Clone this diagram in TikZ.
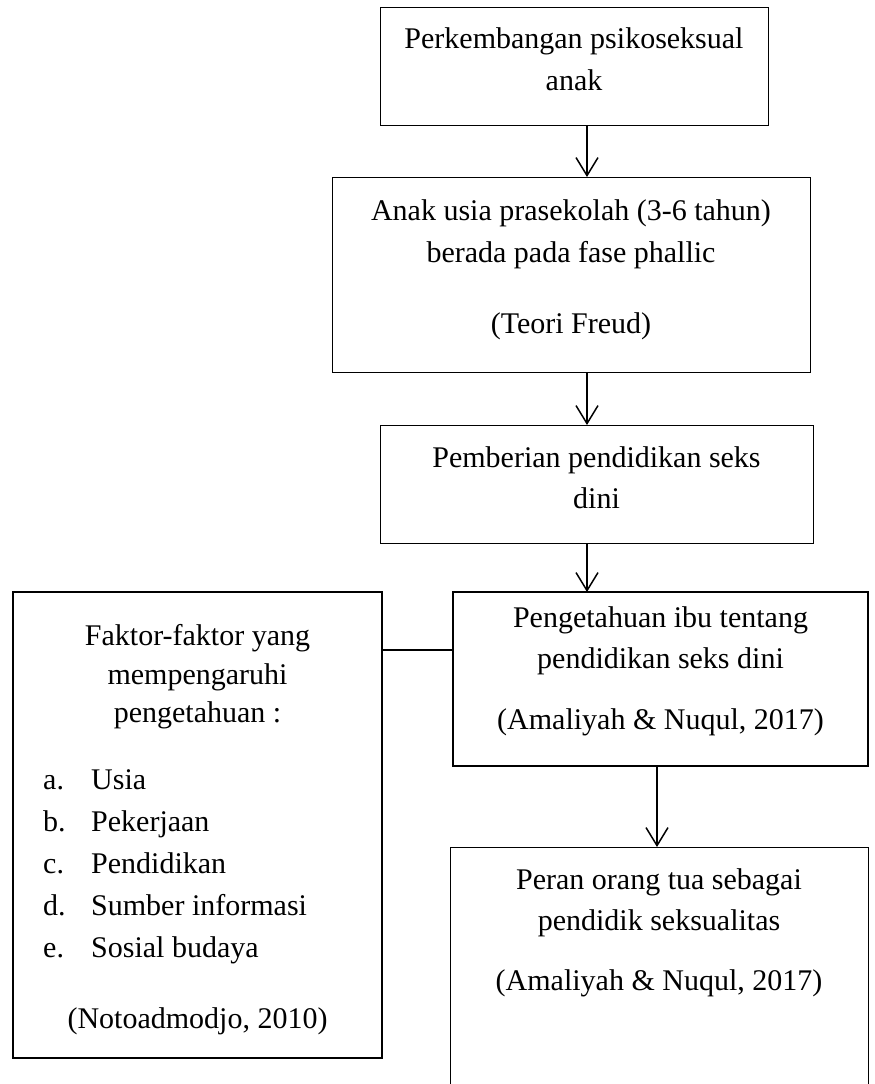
\documentclass[tikz,border=0pt]{standalone}
\usepackage{fontspec}
\setmainfont{Liberation Serif}
\usetikzlibrary{arrows.meta}
\begin{document}
\begin{tikzpicture}[x=1pt,y=-1pt,
  boxthin/.style={draw=black, line width=1pt, inner sep=0pt, outer sep=0pt},
  boxthick/.style={draw=black, line width=2pt, inner sep=0pt, outer sep=0pt},
  txt/.style={anchor=base, inner sep=0pt, font=\fontsize{30}{41}\selectfont},
  ltxt/.style={anchor=base west, inner sep=0pt, font=\fontsize{30}{41}\selectfont},
  arr/.style={line width=1.5pt, -{Straight Barb[length=18pt,width=22pt,line width=1.5pt]}},
  conn/.style={line width=1.5pt}]
\useasboundingbox (0,0) rectangle (875,1084);
% boxes
\node[boxthin, minimum width=388pt, minimum height=118pt] (b1) at (574,66) {};
\node[boxthin, minimum width=478pt, minimum height=195pt] (b2) at (571,274.5) {};
\node[boxthin, minimum width=433pt, minimum height=118pt] (b3) at (596.5,484) {};
\node[boxthick, minimum width=415pt, minimum height=174pt] (b4) at (660.5,679) {};
\node[boxthin, minimum width=418pt, minimum height=253pt] (b5) at (659,973.5) {};
\node[boxthick, minimum width=369pt, minimum height=466pt] (lb) at (197.5,825) {};
% texts
\node[txt] (t1a) at (574,48) {Perkembangan psikoseksual};
\node[txt] (t1b) at (574,90) {anak};
\node[txt] (t2a) at (571,220) {Anak usia prasekolah (3-6 tahun)};
\node[txt] (t2b) at (571,262) {berada pada fase phallic};
\node[txt] (t2c) at (571,333) {(Teori Freud)};
\node[txt] (t3a) at (596.5,467) {Pemberian pendidikan seks};
\node[txt] (t3b) at (596.5,508) {dini};
\node[txt] (t4a) at (660.5,627) {Pengetahuan ibu tentang};
\node[txt] (t4b) at (660.5,668) {pendidikan seks dini};
\node[txt] (t4c) at (660.5,729) {(Amaliyah \& Nuqul, 2017)};
\node[txt] (t5a) at (659,889) {Peran orang tua sebagai};
\node[txt] (t5b) at (659,930) {pendidik seksualitas};
\node[txt] (t5c) at (659,990) {(Amaliyah \& Nuqul, 2017)};
\node[txt] (tla) at (197.5,645) {Faktor-faktor yang};
\node[txt] (tlb) at (197.5,684) {mempengaruhi};
\node[txt] (tlc) at (197.5,722) {pengetahuan :};
\node[ltxt] (la) at (43,789) {a.};
\node[ltxt] (lat) at (91,789) {Usia};
\node[ltxt] (lbb) at (43,831) {b.};
\node[ltxt] (lbt) at (91,831) {Pekerjaan};
\node[ltxt] (lc) at (43,873) {c.};
\node[ltxt] (lct) at (91,873) {Pendidikan};
\node[ltxt] (ld) at (43,915) {d.};
\node[ltxt] (ldt) at (91,915) {Sumber informasi};
\node[ltxt] (le) at (43,957) {e.};
\node[ltxt] (let) at (91,957) {Sosial budaya};
\node[txt] (tln) at (197.5,1028) {(Notoadmodjo, 2010)};
% connectors
\coordinate (ax) at (587,0);
\coordinate (bx) at (657,0);
\draw[arr] (b1.south -| ax) -- (b2.north -| ax);
\draw[arr] (b2.south -| ax) -- (b3.north -| ax);
\draw[arr] (b3.south -| ax) -- (b4.north -| ax);
\draw[arr, line width=2pt] (b4.south -| bx) -- (b5.north -| bx);
\coordinate (cy) at (0,650);
\draw[conn] (lb.east |- cy) -- (b4.west |- cy);
\end{tikzpicture}
\end{document}
